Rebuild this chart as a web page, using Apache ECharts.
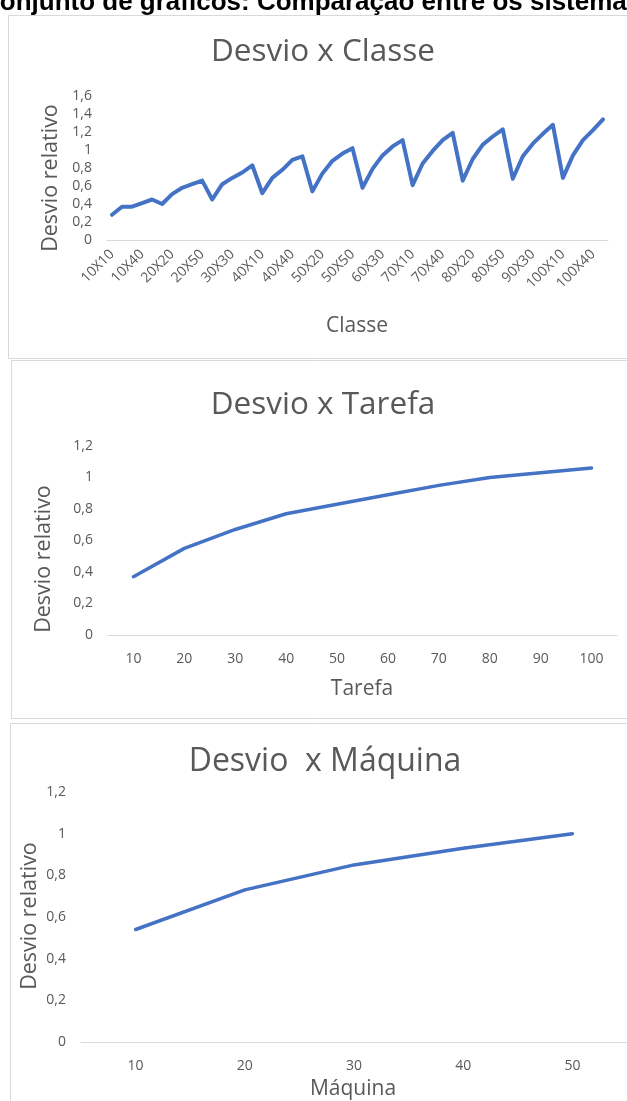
<!DOCTYPE html>
<html>
<head>
<meta charset="utf-8">
<script src="https://cdn.jsdelivr.net/npm/echarts@6/dist/echarts.min.js"></script>
<style>
  html, body { margin: 0; padding: 0; background: #ffffff; }
  #main { width: 627px; height: 1101px; }
</style>
</head>
<body>
<div id="main"></div>
<script>
// Categories: task count x machine count
const classes = [
  '10X10','10X20','10X30','10X40','10X50',
  '20X10','20X20','20X30','20X40','20X50',
  '30X10','30X20','30X30','30X40','30X50',
  '40X10','40X20','40X30','40X40','40X50',
  '50X10','50X20','50X30','50X40','50X50',
  '60X10','60X20','60X30','60X40','60X50',
  '70X10','70X20','70X30','70X40','70X50',
  '80X10','80X20','80X30','80X40','80X50',
  '90X10','90X20','90X30','90X40','90X50',
  '100X10','100X20','100X30','100X40','100X50'
];
const desvioClasse = [
  0.28, 0.37, 0.37, 0.41, 0.45,
  0.40, 0.51, 0.58, 0.62, 0.66,
  0.45, 0.62, 0.69, 0.75, 0.83,
  0.52, 0.69, 0.78, 0.89, 0.93,
  0.54, 0.74, 0.88, 0.96, 1.02,
  0.58, 0.79, 0.94, 1.04, 1.11,
  0.61, 0.85, 0.99, 1.11, 1.19,
  0.66, 0.90, 1.06, 1.15, 1.23,
  0.68, 0.93, 1.07, 1.18, 1.28,
  0.69, 0.94, 1.11, 1.22, 1.34
];

const tarefas = ['10','20','30','40','50','60','70','80','90','100'];
const desvioTarefa = [0.37, 0.55, 0.67, 0.77, 0.83, 0.89, 0.95, 1.00, 1.03, 1.06];

const maquinas = ['10','20','30','40','50'];
const desvioMaquina = [0.54, 0.73, 0.85, 0.93, 1.00];

const FONT = '"Open Sans", sans-serif';
const TEXT = '#595959';
const AXIS = '#d9d9d9';
const LINE = '#4472C4';

const fmt = v => String(Math.round(v * 10) / 10).replace('.', ',');

function xAxisCfg(grid, data, extraLabel) {
  return {
    gridIndex: grid, type: 'category', data: data, boundaryGap: true,
    axisLine: { lineStyle: { color: AXIS, width: 1 } },
    axisTick: { show: false },
    splitLine: { show: false },
    axisLabel: Object.assign({ color: TEXT, fontFamily: FONT, fontSize: 14, margin: 17 }, extraLabel || {})
  };
}
function yAxisCfg(grid, max) {
  return {
    gridIndex: grid, type: 'value', min: 0, max: max, interval: 0.2,
    axisLine: { show: false }, axisTick: { show: false }, splitLine: { show: false },
    axisLabel: { color: TEXT, fontFamily: FONT, fontSize: 14, margin: 15, formatter: fmt }
  };
}
function lineSeries(idx, data, width) {
  return {
    type: 'line', xAxisIndex: idx, yAxisIndex: idx, data: data,
    symbol: 'none', silent: true,
    lineStyle: { color: LINE, width: width, cap: 'round', join: 'round' }
  };
}
function label(text, x, y, size, rot) {
  return {
    type: 'text', x: x, y: y, rotation: rot || 0, z: 10,
    style: { text: text, fill: TEXT, font: size + 'px ' + FONT, align: 'center', verticalAlign: 'middle' }
  };
}
function panel(x, y, w, h) {
  return {
    type: 'rect', z: 0,
    shape: { x: x + 0.5, y: y + 0.5, width: w, height: h },
    style: { fill: '#ffffff', stroke: AXIS, lineWidth: 1 }
  };
}

const chart = echarts.init(document.getElementById('main'));
chart.setOption({
  animation: false,
  backgroundColor: '#ffffff',
  grid: [
    { left: 107, top: 96, width: 501, height: 144 },
    { left: 108, top: 446, width: 509, height: 189 },
    { left: 81, top: 792, width: 546, height: 250 }
  ],
  xAxis: [
    xAxisCfg(0, classes, { interval: 2, rotate: 45, fontSize: 14, margin: 12 }),
    xAxisCfg(1, tarefas),
    xAxisCfg(2, maquinas)
  ],
  yAxis: [yAxisCfg(0, 1.6), yAxisCfg(1, 1.2), yAxisCfg(2, 1.2)],
  series: [
    lineSeries(0, desvioClasse, 4),
    lineSeries(1, desvioTarefa, 3.5),
    lineSeries(2, desvioMaquina, 3.5)
  ],
  graphic: [
    panel(8, 15, 640, 343),
    panel(11, 360, 640, 358),
    panel(10, 723, 640, 400),
    {
      type: 'text', x: -19, y: -10.5, z: 10,
      style: {
        text: 'Conjunto de gráficos: Comparação entre os sistemas',
        fill: '#000000', font: 'bold 26px "Liberation Sans", Arial, sans-serif',
        align: 'left', verticalAlign: 'top'
      }
    },
    label('Desvio x Classe', 323, 52, 31.5),
    label('Desvio x Tarefa', 323, 405, 31.5),
    label('Desvio  x Máquina', 325, 762, 32),
    label('Desvio relativo', 51, 178, 21.5, Math.PI / 2),
    label('Desvio relativo', 44, 559, 21.5, Math.PI / 2),
    label('Desvio relativo', 30, 916, 21.5, Math.PI / 2),
    label('Classe', 357, 326, 21),
    label('Tarefa', 362, 689, 21),
    label('Máquina', 353, 1089, 21)
  ]
});
</script>
</body>
</html>
